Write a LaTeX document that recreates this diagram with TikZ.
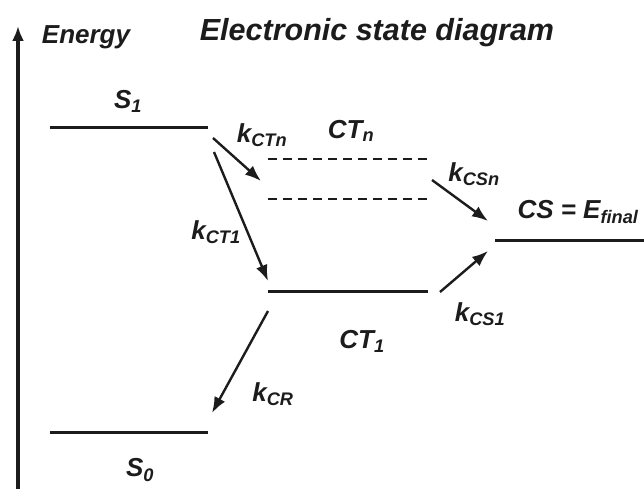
\documentclass[tikz,border=0pt]{standalone}
\usepackage{fontspec}
\setmainfont{Liberation Sans}
\usetikzlibrary{positioning,arrows.meta}
\definecolor{esInk}{HTML}{1C1C1C}
\definecolor{esWhite}{HTML}{FFFFFF}
\tikzset{
  es-level/.style={draw=esInk, line width=3pt},
  es-dash/.style={es-level, line width=2.4pt, dash pattern=on 9pt off 6pt},
  es-axis/.style={-{Latex[length=15pt,width=12pt]}, draw=esInk, line width=3.8pt},
  es-flow/.style={-{Latex[length=16pt,width=12pt]}, draw=esInk, line width=2.4pt},
  es-state/.style={font=\fontsize{26}{28}\selectfont\bfseries\itshape,
    text=esInk, inner sep=0pt},
  es-rate/.style={es-state},
  es-title/.style={font=\fontsize{30.5}{33}\selectfont\bfseries\itshape,
    text=esInk, inner sep=0pt}
}
\begin{document}
\begin{tikzpicture}[x=1pt, y=-1pt]
\useasboundingbox[fill=esWhite] (0,0) rectangle (644,489);

% axis and titles
\coordinate (axBot) at (18,489);
\coordinate (axTop) at (18,26);
\draw[es-axis] (axBot) -- (axTop);
\node[es-title, font=\fontsize{26}{28}\selectfont\bfseries\itshape] (energy) at (86,37) {Energy};
\node[es-title] (title) at (377,33) {Electronic state diagram};

% energy levels
\coordinate (s1L) at (50,128);  \coordinate (s1R) at (208,128);
\coordinate (ctnaL) at (268,159); \coordinate (ctnaR) at (428,159);
\coordinate (ctnbL) at (268,199); \coordinate (ctnbR) at (428,199);
\coordinate (ct1L) at (268,291); \coordinate (ct1R) at (428,291);
\coordinate (csL) at (495,240);  \coordinate (csR) at (644,240);
\coordinate (s0L) at (50,432);  \coordinate (s0R) at (208,432);
\draw[es-level] (s1L) -- (s1R);
\draw[es-dash] (ctnaL) -- (ctnaR);
\draw[es-dash] (ctnbL) -- (ctnbR);
\draw[es-level] (ct1L) -- (ct1R);
\draw[es-level] (csL) -- (csR);
\draw[es-level] (s0L) -- (s0R);

% state labels
\node[es-state] (S1) at (128,101) {S\textsubscript{1}};
\node[es-state] (CTn) at (351,131) {CT\textsubscript{n}};
\node[es-state] (CT1) at (362,341) {CT\textsubscript{1}};
\node[es-state] (CS) at (578,212) {CS = E\textsubscript{final}};
\node[es-state] (S0) at (140,470) {S\textsubscript{0}};

% transfer arrows
\coordinate (ctnOut) at (213,138); \coordinate (ctnIn) at (261,181);
\coordinate (ct1Out) at (214,152); \coordinate (ct1In) at (268,281);
\coordinate (csnOut) at (432,180); \coordinate (csnIn) at (488,221);
\coordinate (cs1Out) at (440,292); \coordinate (cs1In) at (488,251);
\coordinate (crOut) at (268,311);  \coordinate (crIn) at (212,413);
\draw[es-flow] (ctnOut) -- (ctnIn);
\draw[es-flow] (ct1Out) -- (ct1In);
\draw[es-flow] (csnOut) -- (csnIn);
\draw[es-flow] (cs1Out) -- (cs1In);
\draw[es-flow] (crOut) -- (crIn);

% rate labels
\node[es-rate] (kCTn) at (262,135) {k\textsubscript{CTn}};
\node[es-rate] (kCT1) at (216,232) {k\textsubscript{CT1}};
\node[es-rate] (kCSn) at (474,174) {k\textsubscript{CSn}};
\node[es-rate] (kCS1) at (480,314) {k\textsubscript{CS1}};
\node[es-rate] (kCR) at (273,394) {k\textsubscript{CR}};
\end{tikzpicture}
\end{document}
